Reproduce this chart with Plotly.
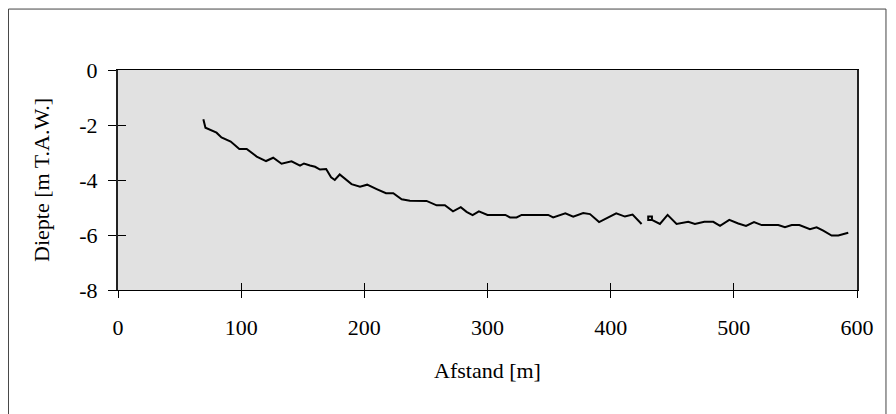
import plotly.graph_objects as go

# Profile segment 1 (distance [m], depth [m T.A.W.])
seg1_x = [69.3, 70, 71, 80, 84, 91.5, 98.5, 104.5, 112.6, 120.2, 126, 132.8, 140.9, 147.8, 151,
          155.9, 160, 164, 169, 173, 176, 180, 185.7, 189.6, 196.5, 202.3, 210, 217.6, 223.5,
          230.3, 237, 250.5, 258.7, 265.4, 272, 278.3, 283, 287.9, 293, 300, 314.5, 318.3,
          323.6, 327.7, 349.3, 353.3, 363.2, 369.6, 377.7, 383.2, 390.6, 398, 404.5, 411.6,
          417.8, 425.1]
seg1_y = [-1.79, -1.95, -2.1, -2.28, -2.45, -2.6, -2.87, -2.87, -3.15, -3.31, -3.19, -3.41, -3.32,
          -3.48, -3.4, -3.47, -3.52, -3.62, -3.6, -3.9, -4.0, -3.8, -4.0, -4.15, -4.24, -4.17,
          -4.33, -4.48, -4.48, -4.7, -4.75, -4.76, -4.92, -4.92, -5.14, -4.99, -5.16, -5.28,
          -5.14, -5.27, -5.27, -5.36, -5.36, -5.27, -5.27, -5.36, -5.21, -5.33, -5.2, -5.24,
          -5.53, -5.35, -5.21, -5.33, -5.26, -5.6]

# Profile segment 2
seg2_x = [433.5, 430.5, 430.5, 433.5, 433.5, 440, 446.2, 453.5, 463, 468.4, 476, 483.3, 488.8,
          496.3, 503.6, 509.9, 516.4, 522.6, 536.1, 541.5, 547, 553.2, 561.8, 567.2, 572.6,
          579.4, 584.8, 592.9]
seg2_y = [-5.45, -5.45, -5.33, -5.33, -5.45, -5.6, -5.27, -5.6, -5.52, -5.6, -5.52, -5.52, -5.67,
          -5.45, -5.58, -5.67, -5.53, -5.64, -5.64, -5.72, -5.64, -5.64, -5.79, -5.72, -5.84,
          -6.02, -6.02, -5.92]

x_ticks = [0, 100, 200, 300, 400, 500, 600]
y_ticks = [0, -2, -4, -6, -8]

FONT = "Liberation Serif"
FS = 22

fig = go.Figure()
fig.add_trace(go.Scatter(
    x=seg1_x + [None] + seg2_x,
    y=seg1_y + [None] + seg2_y,
    mode="lines",
    line=dict(color="black", width=2),
    connectgaps=False,
    showlegend=False,
    hoverinfo="skip",
))
# invisible trace on overlay axes (for the inner half of the cross ticks)
fig.add_trace(go.Scatter(x=[None], y=[None], xaxis="x2", yaxis="y2",
                         mode="lines", showlegend=False, hoverinfo="skip"))

axis_common = dict(showgrid=False, zeroline=False, color="black",
                   tickfont=dict(family=FONT, size=FS, color="black"))

fig.update_layout(
    width=888, height=406,
    margin=dict(l=110, r=39, t=62, b=124),
    paper_bgcolor="white",
    plot_bgcolor="#e1e1e1",
    font=dict(family=FONT, size=FS, color="black"),
    xaxis=dict(range=[0, 600], tickvals=x_ticks, ticktext=[str(v) for v in x_ticks],
               ticks="outside", ticklen=7, tickwidth=1, tickcolor="black",
               showline=True, linecolor="black", linewidth=1, mirror=True,
               ticklabelstandoff=11,
               title=dict(text="Afstand [m]", font=dict(family=FONT, size=FS), standoff=23),
               **axis_common),
    yaxis=dict(range=[-8, 0], tickvals=y_ticks, ticktext=[str(v) for v in y_ticks],
               ticks="outside", ticklen=8, tickwidth=1, tickcolor="black",
               showline=True, linecolor="#222", linewidth=2, mirror=True,
               ticklabelstandoff=6,
               title=dict(text="Diepte [m T.A.W.]", font=dict(family=FONT, size=FS), standoff=24),
               **axis_common),
    xaxis2=dict(range=[0, 600], tickvals=x_ticks, ticks="inside", ticklen=7, tickwidth=1,
                tickcolor="black", showticklabels=False, overlaying="x", anchor="y2",
                side="bottom", showgrid=False, zeroline=False, showline=False),
    yaxis2=dict(range=[-8, 0], tickvals=y_ticks, ticks="inside", ticklen=8, tickwidth=1,
                tickcolor="black", showticklabels=False, overlaying="y", anchor="x2",
                side="left", showgrid=False, zeroline=False, showline=False),
    shapes=[dict(type="rect", xref="paper", yref="paper",
                 x0=-0.1482, x1=1.0392, y0=-0.7, y1=1.277,
                 line=dict(color="#444", width=1), fillcolor="rgba(0,0,0,0)", layer="below")],
)

fig.write_html("out.html")
